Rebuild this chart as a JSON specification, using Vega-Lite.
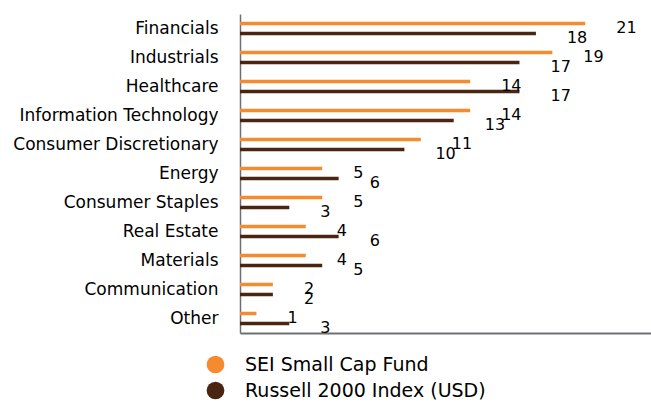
{
  "$schema": "https://vega.github.io/schema/vega-lite/v6.json",
  "width": 411,
  "height": 319,
  "autosize": {"type": "none"},
  "padding": {"left": 240, "top": 14, "right": 0, "bottom": 69},
  "background": "white",
  "config": {
    "font": "DejaVu Sans",
    "view": {"stroke": null}
  },
  "data": {
    "values": [
      {"sector": "Financials", "series": "SEI Small Cap Fund", "value": 21},
      {"sector": "Financials", "series": "Russell 2000 Index (USD)", "value": 18},
      {"sector": "Industrials", "series": "SEI Small Cap Fund", "value": 19},
      {"sector": "Industrials", "series": "Russell 2000 Index (USD)", "value": 17},
      {"sector": "Healthcare", "series": "SEI Small Cap Fund", "value": 14},
      {"sector": "Healthcare", "series": "Russell 2000 Index (USD)", "value": 17},
      {"sector": "Information Technology", "series": "SEI Small Cap Fund", "value": 14},
      {"sector": "Information Technology", "series": "Russell 2000 Index (USD)", "value": 13},
      {"sector": "Consumer Discretionary", "series": "SEI Small Cap Fund", "value": 11},
      {"sector": "Consumer Discretionary", "series": "Russell 2000 Index (USD)", "value": 10},
      {"sector": "Energy", "series": "SEI Small Cap Fund", "value": 5},
      {"sector": "Energy", "series": "Russell 2000 Index (USD)", "value": 6},
      {"sector": "Consumer Staples", "series": "SEI Small Cap Fund", "value": 5},
      {"sector": "Consumer Staples", "series": "Russell 2000 Index (USD)", "value": 3},
      {"sector": "Real Estate", "series": "SEI Small Cap Fund", "value": 4},
      {"sector": "Real Estate", "series": "Russell 2000 Index (USD)", "value": 6},
      {"sector": "Materials", "series": "SEI Small Cap Fund", "value": 4},
      {"sector": "Materials", "series": "Russell 2000 Index (USD)", "value": 5},
      {"sector": "Communication", "series": "SEI Small Cap Fund", "value": 2},
      {"sector": "Communication", "series": "Russell 2000 Index (USD)", "value": 2},
      {"sector": "Other", "series": "SEI Small Cap Fund", "value": 1},
      {"sector": "Other", "series": "Russell 2000 Index (USD)", "value": 3}
    ]
  },
  "encoding": {
    "y": {
      "field": "sector",
      "type": "nominal",
      "sort": ["Financials", "Industrials", "Healthcare", "Information Technology", "Consumer Discretionary", "Energy", "Consumer Staples", "Real Estate", "Materials", "Communication", "Other"],
      "scale": {"paddingInner": 0, "paddingOuter": 0},
      "axis": {
        "title": null,
        "ticks": false,
        "labelPadding": 22,
        "labelFontSize": 17,
        "labelLimit": 0,
        "labelColor": "#000000",
        "labelFont": "DejaVu Sans",
        "domainColor": "#6d7073",
        "domainWidth": 1.5,
        "grid": false
      }
    },
    "yOffset": {
      "field": "series",
      "type": "nominal",
      "sort": ["SEI Small Cap Fund", "Russell 2000 Index (USD)"],
      "scale": {"paddingInner": 0, "paddingOuter": 0.45}
    },
    "x": {
      "field": "value",
      "type": "quantitative",
      "scale": {"domain": [0, 25], "nice": false},
      "axis": {
        "title": null,
        "labels": false,
        "ticks": false,
        "grid": false,
        "domainColor": "#6d7073",
        "domainWidth": 2
      }
    }
  },
  "layer": [
    {
      "mark": {"type": "bar", "height": 3.5},
      "encoding": {
        "color": {
          "field": "series",
          "type": "nominal",
          "sort": ["SEI Small Cap Fund", "Russell 2000 Index (USD)"],
          "scale": {"domain": ["SEI Small Cap Fund", "Russell 2000 Index (USD)"], "range": ["#F58A2E", "#4A2612"]},
          "legend": {
            "title": null,
            "orient": "none",
            "legendX": -34,
            "legendY": 341,
            "padding": 0,
            "symbolType": "circle",
            "symbolSize": 314,
            "symbolStrokeWidth": 0,
            "labelFontSize": 19,
            "labelLimit": 0,
            "labelFont": "DejaVu Sans",
            "labelColor": "#000000",
            "labelOffset": 20,
            "rowPadding": 6
          }
        }
      }
    },
    {
      "mark": {"type": "text", "align": "left", "baseline": "middle", "dx": 31, "dy": 4, "fontSize": 16, "font": "DejaVu Sans", "color": "#000000"},
      "encoding": {
        "text": {"field": "value", "type": "quantitative"}
      }
    }
  ]
}
